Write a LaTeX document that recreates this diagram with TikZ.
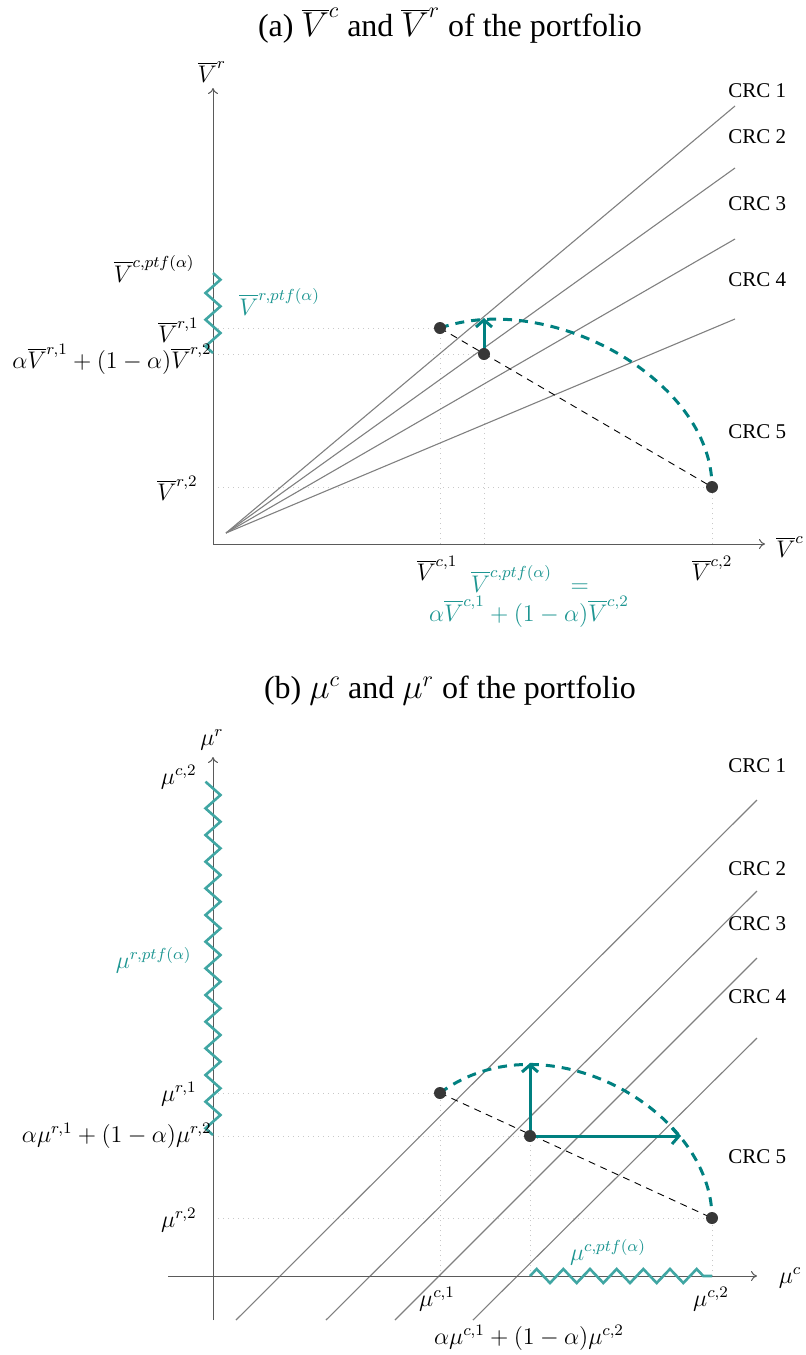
\documentclass[tikz,border=0pt]{standalone}
\usepackage[no-math]{fontspec}
\setmainfont{Liberation Serif}
\usetikzlibrary{arrows.meta}
\definecolor{tealA}{RGB}{0,128,128}
\definecolor{zzcol}{RGB}{64,166,163}
\definecolor{tlab}{RGB}{30,150,146}
\definecolor{crcgray}{RGB}{128,128,128}
\definecolor{axgray}{RGB}{90,90,90}
\definecolor{ptgray}{RGB}{55,55,55}
\definecolor{guidegray}{RGB}{200,200,200}
\begin{document}
\begin{tikzpicture}[x=0.5pt,y=-0.5pt,
  lbl/.style={font=\fontsize{12.1}{12.5}\selectfont, inner sep=0pt},
  tlbl/.style={lbl, text=tlab},
  ttl/.style={font=\fontsize{16}{19}\selectfont, inner sep=0pt},
  crc/.style={font=\fontsize{10.5}{12}\selectfont, anchor=west, inner sep=0pt},
  axisline/.style={draw=axgray, line width=0.5pt, -{To[length=3pt,width=5pt]}},
  crcline/.style={draw=crcgray, line width=0.55pt},
  guide/.style={draw=guidegray, line width=0.5pt, dotted},
  chord/.style={draw=black, line width=0.45pt, dash pattern=on 3.5pt off 2.8pt},
  tarc/.style={draw=tealA, line width=1.5pt, dash pattern=on 4.5pt off 3.5pt},
  tarrow/.style={draw=tealA, line width=1.5pt, -{Straight Barb[length=3.5pt,width=8pt]}},
  zz/.style={draw=zzcol, line width=1.3pt, line join=miter},
  dot/.style={circle, fill=ptgray, inner sep=0pt, minimum size=6pt}
]
\useasboundingbox (0,0) rectangle (805,1355);

% ================= panel (a) =================
\node[ttl] (ta) at (450,26) {(a) $\overline{V}^c$ and $\overline{V}^r$ of the portfolio};

\coordinate (Oa) at (213,544);
\coordinate (Ya) at (213,88);
\coordinate (Xa) at (765,544);
\coordinate (Ra) at (226,533);
\coordinate (E1a) at (735,106);
\coordinate (E2a) at (735,168);
\coordinate (E3a) at (735,239);
\coordinate (E4a) at (735,319);
\coordinate (p1a) at (440,328);
\coordinate (p2a) at (712,487);
\coordinate (ma) at (484,354);
\coordinate (ua) at (484,318);

\draw[guide] (Oa |- p1a) -- (p1a);
\draw[guide] (Oa |- ma) -- (ma);
\draw[guide] (Oa |- p2a) -- (p2a);
\draw[guide] (p1a |- Oa) -- (p1a);
\draw[guide] (ma |- Oa) -- (ma);
\draw[guide] (p2a |- Oa) -- (p2a);

\draw[crcline] (Ra) -- (E1a);
\draw[crcline] (Ra) -- (E2a);
\draw[crcline] (Ra) -- (E3a);
\draw[crcline] (Ra) -- (E4a);

\draw[axisline] (Oa) -- (Ya);
\draw[axisline] (Oa) -- (Xa);

\draw[zz] (213,353) \foreach \k in {0,...,5} { -- ({205.5+15*mod(\k,2)},{346.333-13.333*\k}) } -- (213,273);

\draw[chord] (p1a) -- (p2a);
\draw[tarc] (p1a) .. controls (550,290) and (712,380) .. (p2a);
\draw[tarrow] (ma) -- (ua);

\node[dot] (d1a) at (p1a) {};
\node[dot] (d2a) at (p2a) {};
\node[dot] (dma) at (ma) {};

\node[crc] (c1a) at (728,91) {CRC 1};
\node[crc] (c2a) at (728,137) {CRC 2};
\node[crc] (c3a) at (728,204) {CRC 3};
\node[crc] (c4a) at (728,280) {CRC 4};
\node[crc] (c5a) at (728,432) {CRC 5};

\node[lbl] (yla) at (212,72) {$\overline{V}^r$};
\node[lbl] (xla) at (790,547) {$\overline{V}^c$};
\node[lbl, anchor=east] (lva) at (195,269) {$\overline{V}^{c,ptf(\alpha)}$};
\node[tlbl, anchor=west] (lvra) at (239,302) {$\overline{V}^{r,ptf(\alpha)}$};
\node[lbl, anchor=east] (lr1a) at (199,330) {$\overline{V}^{r,1}$};
\node[lbl, anchor=east] (lrma) at (212,359) {$\alpha\overline{V}^{r,1}+(1-\alpha)\overline{V}^{r,2}$};
\node[lbl, anchor=east] (lr2a) at (198,488) {$\overline{V}^{r,2}$};
\node[lbl] (lc1a) at (437,568) {$\overline{V}^{c,1}$};
\node[lbl] (lc2a) at (712,568) {$\overline{V}^{c,2}$};
\node[tlbl, anchor=base] (lcma1) at (530,592) {$\overline{V}^{c,ptf(\alpha)}\hspace{6pt}=$};
\node[tlbl, anchor=base] (lcma2) at (529,621) {$\alpha\overline{V}^{c,1}+(1-\alpha)\overline{V}^{c,2}$};

% ================= panel (b) =================
\node[ttl] (tb) at (450,691) {(b) $\mu^c$ and $\mu^r$ of the portfolio};

\coordinate (Ob) at (213,1276);
\coordinate (Bb) at (213,1320);
\coordinate (Lb) at (168,1276);
\coordinate (Yb) at (213,757);
\coordinate (Xb) at (757,1276);
\coordinate (S1b) at (236,1320);
\coordinate (S2b) at (326,1320);
\coordinate (S3b) at (395,1320);
\coordinate (S4b) at (473,1320);
\coordinate (E1b) at (757,800);
\coordinate (E2b) at (757,891);
\coordinate (E3b) at (757,958);
\coordinate (E4b) at (757,1038);
\coordinate (p1b) at (440,1093);
\coordinate (p2b) at (712,1218);
\coordinate (mb) at (530,1136);
\coordinate (ub) at (530,1063);
\coordinate (rb) at (681,1136);

\draw[guide] (Ob |- p1b) -- (p1b);
\draw[guide] (Ob |- mb) -- (mb);
\draw[guide] (Ob |- p2b) -- (p2b);
\draw[guide] (p1b |- Ob) -- (p1b);
\draw[guide] (mb |- Ob) -- (mb);
\draw[guide] (p2b |- Ob) -- (p2b);

\draw[crcline] (S1b) -- (E1b);
\draw[crcline] (S2b) -- (E2b);
\draw[crcline] (S3b) -- (E3b);
\draw[crcline] (S4b) -- (E4b);

\draw[axisline] (Bb) -- (Yb);
\draw[axisline] (Lb) -- (Xb);

\draw[zz] (213,1135) \foreach \k in {0,...,26} { -- ({205.5+15*mod(\k,2)},{1128.333-13.333*\k}) };
\draw[zz] (530,1276) \foreach \k in {0,...,12} { -- ({536.667+13.333*\k},{1269+14*mod(\k,2)}) } -- (703.3,1276) -- (712,1276);

\draw[chord] (p1b) -- (p2b);
\draw[tarc] (p1b) .. controls (545,1015) and (712,1110) .. (p2b);
\draw[tarrow] (mb) -- (ub);
\draw[tarrow] (mb) -- (rb);

\node[dot] (d1b) at (p1b) {};
\node[dot] (d2b) at (p2b) {};
\node[dot] (dmb) at (mb) {};

\node[crc] (c1b) at (728,766) {CRC 1};
\node[crc] (c2b) at (728,869) {CRC 2};
\node[crc] (c3b) at (728,924) {CRC 3};
\node[crc] (c4b) at (728,997) {CRC 4};
\node[crc] (c5b) at (728,1157) {CRC 5};

\node[lbl] (ylb) at (212,740) {$\mu^r$};
\node[lbl] (xlb) at (790,1278) {$\mu^c$};
\node[lbl, anchor=east] (lc2l) at (197,777) {$\mu^{c,2}$};
\node[tlbl, anchor=east] (lrpb) at (192,960) {$\mu^{r,ptf(\alpha)}$};
\node[lbl, anchor=east] (lr1b) at (197,1094) {$\mu^{r,1}$};
\node[lbl, anchor=east] (lrmb) at (212,1136) {$\alpha\mu^{r,1}+(1-\alpha)\mu^{r,2}$};
\node[lbl, anchor=east] (lr2b) at (197,1220) {$\mu^{r,2}$};
\node[lbl] (lc1b) at (437,1299) {$\mu^{c,1}$};
\node[lbl] (lc2b) at (711,1299) {$\mu^{c,2}$};
\node[lbl] (lcmb) at (529,1338) {$\alpha\mu^{c,1}+(1-\alpha)\mu^{c,2}$};
\node[tlbl] (lcpb) at (608,1252) {$\mu^{c,ptf(\alpha)}$};
\end{tikzpicture}
\end{document}
